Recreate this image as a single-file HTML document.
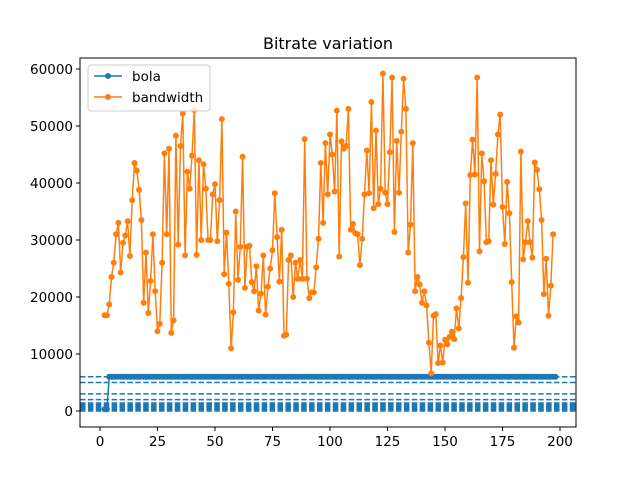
<!DOCTYPE html>
<html><head><meta charset="utf-8"><style>
body{margin:0;background:#fff}
svg{font-family:"DejaVu Sans","Liberation Sans",sans-serif}
</style></head><body>
<svg id="c" width="640" height="480" xmlns="http://www.w3.org/2000/svg">
<rect width="640" height="480" fill="#fff"/>
<text x="328" y="49" text-anchor="middle" font-size="16">Bitrate variation</text>
<g id="plot"></g>
<rect x="80" y="58" width="496" height="369" fill="none" stroke="#000" stroke-width="1"/>
<g id="ticks"></g>
<g>
<rect x="88" y="65" width="122" height="46" rx="3" fill="#fff" fill-opacity="0.8" stroke="#ccc"/>
<g>
<line x1="94" y1="76" x2="122" y2="76" stroke="#1f77b4" stroke-width="1.5"/><circle cx="108" cy="76" r="3" fill="#1f77b4"/>
<text x="132" y="81" font-size="13.5">bola</text></g>
<g>
<line x1="94" y1="97" x2="122" y2="97" stroke="#ff7f0e" stroke-width="1.5"/><circle cx="108" cy="97" r="3" fill="#ff7f0e"/>
<text x="132" y="102" font-size="13.5">bandwidth</text></g>
</g>
</svg>
<script>
const xTicks=[0,25,50,75,100,125,150,175,200];
const yTicks=[0,10000,20000,30000,40000,50000,60000];
const levels=[6000,5000,3000,2000,1400,1200,1000,800,600,400,200,0];
const bandwidthStart=2;
const bandwidth=[16800,16800,18700,23500,26000,31000,33000,24300,29500,30800,33300,27200,37000,43500,42200,38800,33500,19000,27800,17200,22800,31000,21000,14000,15300,26000,45200,31000,46000,13700,15900,48300,29200,46500,52200,27300,42000,39000,44800,52800,27400,44000,30000,43300,39000,30000,30000,38000,39800,29800,37000,51200,24000,31300,22300,11000,17300,35000,23000,28800,44600,21600,28800,29000,22600,21000,25400,17600,20600,27300,16900,21800,25000,28200,38200,30500,22700,31800,13200,13400,26500,27300,20000,26000,23200,26500,23200,47700,23200,19800,20800,20800,25200,30200,43500,33000,47000,38000,48500,45000,38500,52700,27100,47300,46000,46500,53000,31800,32800,31200,31000,25600,30200,38000,45700,38200,54200,35600,49200,36300,39000,59200,38300,36300,45400,58500,31400,47400,38300,49000,58300,53000,27800,32700,47000,21000,23500,22200,19000,21000,18500,12000,6600,16700,17000,8400,11500,8500,12500,11700,13000,13900,12600,18000,14500,19800,27000,36400,22500,41400,47600,41500,58500,28000,45200,40300,29600,29800,44000,36200,41600,48500,52000,35800,29300,40200,34700,22600,11100,16600,15500,45500,26600,29600,33300,29600,26900,43600,42300,38900,33500,20500,26700,16700,22000,31000];
const bolaStart=2;
const bolaEnd=198;
const bolaInitial=[300,300];
const bolaSteady=6000;
const X=v=>100+v*2.3;
const Y=v=>411-v*0.0057;
const NS="http://www.w3.org/2000/svg";
const plot=document.getElementById('plot'),tk=document.getElementById('ticks');
function mk(t,a,p){const e=document.createElementNS(NS,t);for(const k in a)e.setAttribute(k,a[k]);p.appendChild(e);return e;}
levels.forEach(l=>{const e=mk('line',{x1:80,x2:576,y1:Y(l),y2:Y(l),stroke:'#1f77b4','stroke-width':1.5,'stroke-dasharray':'5.5,2.4'},plot);

});
const bola=[];for(let x=bolaStart;x<=bolaEnd;x++){const i=x-bolaStart;bola.push([x,i<bolaInitial.length?bolaInitial[i]:bolaSteady]);}
const bl=mk('polyline',{points:bola.map(p=>X(p[0])+','+Y(p[1])).join(' '),fill:'none',stroke:'#1f77b4','stroke-width':1.5},plot);


bola.forEach(p=>{const c=mk('circle',{cx:X(p[0]),cy:Y(p[1]),r:3,fill:'#1f77b4'},plot);

});
const bw=bandwidth.map((v,i)=>[bandwidthStart+i,v]);
const bwl=mk('polyline',{points:bw.map(p=>X(p[0])+','+Y(p[1])).join(' '),fill:'none',stroke:'#ff7f0e','stroke-width':1.5},plot);


bw.forEach(p=>{const c=mk('circle',{cx:X(p[0]),cy:Y(p[1]),r:3,fill:'#ff7f0e'},plot);

});
xTicks.forEach(t=>{mk('line',{x1:X(t),x2:X(t),y1:427,y2:431,stroke:'#000'},tk);
const e=mk('text',{x:X(t),y:446,'text-anchor':'middle','font-size':13.5},tk);e.textContent=t;

});
yTicks.forEach(t=>{mk('line',{x1:76,x2:80,y1:Y(t),y2:Y(t),stroke:'#000'},tk);
const e=mk('text',{x:73,y:Y(t)+5,'text-anchor':'end','font-size':13.5},tk);e.textContent=t;

});
</script>
</body></html>
